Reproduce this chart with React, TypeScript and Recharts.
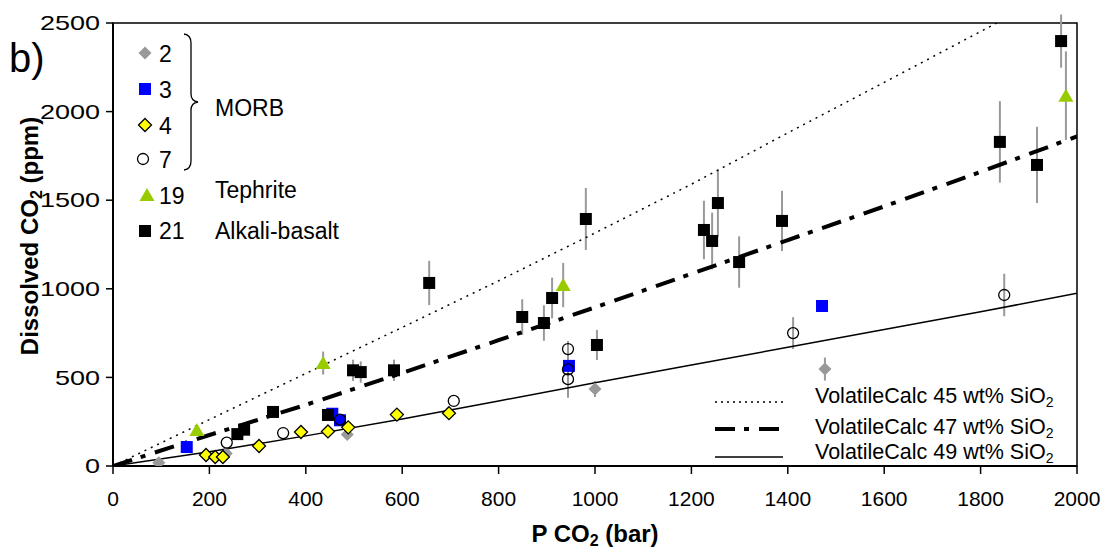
import React from 'react';
import { ScatterChart, Scatter, XAxis, YAxis, ErrorBar, ReferenceArea } from 'recharts';

const FONT = '"Liberation Sans", Arial, Helvetica, sans-serif';

// ---- data ----
const xTicks = [0, 200, 400, 600, 800, 1000, 1200, 1400, 1600, 1800, 2000];
const yTicks = [0, 500, 1000, 1500, 2000, 2500];

// series 2 (MORB, grey diamond)
const s2P = [95, 235, 486, 1000, 1477];
const s2C = [18, 70, 178, 435, 547];
const s2E = [0, 0, 0, 45, 65];
// series 3 (MORB, blue square)
const s3P = [153, 455, 471, 946, 1471];
const s3C = [107, 295, 258, 565, 903];
const s3E = [0, 0, 0, 0, 0];
// series 4 (MORB, yellow diamond)
const s4P = [193, 212, 228, 303, 390, 446, 488, 589, 697];
const s4C = [62, 51, 51, 113, 192, 195, 218, 290, 298];
const s4E = [0, 0, 0, 0, 0, 0, 0, 0, 0];
// series 7 (MORB, open circle)
const s7P = [236, 353, 471, 707, 944, 944, 944, 1411, 1849];
const s7C = [132, 186, 262, 367, 660, 545, 490, 750, 965];
const s7E = [0, 0, 0, 0, 0, 160, 0, 90, 120];
// series 19 (Tephrite, green triangle)
const s19P = [174, 436, 934, 1977];
const s19C = [203, 581, 1021, 2090];
const s19E = [0, 65, 125, 250];
// series 21 (Alkali-basalt, black square)
const s21P = [258, 272, 332, 446, 498, 514, 583, 656, 849, 894, 911, 981, 1004, 1226, 1243, 1255, 1299, 1388, 1840, 1917, 1967];
const s21C = [180, 205, 305, 288, 540, 530, 540, 1033, 841, 807, 948, 1394, 683, 1332, 1270, 1484, 1151, 1383, 1829, 1699, 2398];
const s21E = [0, 0, 30, 0, 60, 60, 60, 125, 100, 100, 115, 175, 85, 165, 160, 190, 145, 170, 230, 215, 150];

// VolatileCalc model curves
const v45P = [0, 200, 400, 600, 800, 1000, 1200, 1400, 1600, 1858];
const v45C = [0, 262, 522, 782, 1045, 1315, 1590, 1880, 2165, 2535];
const v47P = [0, 200, 400, 600, 800, 1000, 1200, 1400, 1600, 1800, 2000];
const v47C = [0, 175, 345, 525, 710, 895, 1085, 1275, 1465, 1660, 1860];
const v49P = [0, 200, 400, 600, 800, 1000, 1200, 1400, 1600, 1800, 2000];
const v49C = [0, 80, 170, 265, 367, 470, 570, 670, 770, 870, 975];

const pts = (p: number[], c: number[], e?: number[]) =>
  p.map((x, i) => ({ x, y: c[i], err: e ? e[i] : 0 }));

// ---- marker shapes ----
const diamondPath = (cx: number, cy: number, r: number) =>
  `M${cx},${cy - r}L${cx + r},${cy}L${cx},${cy + r}L${cx - r},${cy}Z`;

const GreyDiamond = (p: any) => <path d={diamondPath(p.cx, p.cy, 6.5)} fill="#999999" />;
const YellowDiamond = (p: any) => (
  <path d={diamondPath(p.cx, p.cy, 6.5)} fill="#ffff00" stroke="#000" strokeWidth={1.3} />
);
const BlueSquare = (p: any) => <rect x={p.cx - 6} y={p.cy - 6} width={12} height={12} fill="#0000ff" />;
const BlackSquare = (p: any) => <rect x={p.cx - 6} y={p.cy - 6} width={12} height={12} fill="#000" />;
const OpenCircle = (p: any) => <circle cx={p.cx} cy={p.cy} r={5.5} fill="none" stroke="#000" strokeWidth={1.3} />;
const GreenTriangle = (p: any) => (
  <path d={`M${p.cx},${p.cy - 7}L${p.cx + 7.5},${p.cy + 6}L${p.cx - 7.5},${p.cy + 6}Z`} fill="#99cc00" />
);
const NoShape = () => <g />;

const YTick = (props: any) => {
  const { x, y, payload } = props;
  return (
    <g transform={`translate(${x},${y})`}>
      <text
        transform="scale(1.35,1)"
        x={0}
        y={0}
        dy="0.36em"
        textAnchor="end"
        fontSize={20}
        fontFamily={FONT}
        fill="#000"
      >
        {payload.value}
      </text>
    </g>
  );
};

const Overlay = () => (
  <svg
    width={1104}
    height={551}
    style={{ position: 'absolute', left: 0, top: 0, pointerEvents: 'none', fontFamily: FONT }}
  >
    <text x={9} y={72} fontSize={40} fill="#000">b)</text>
    {/* marker legend */}
    <GreyDiamond cx={145} cy={53} />
    <BlueSquare cx={145} cy={89} />
    <YellowDiamond cx={145} cy={125} />
    <OpenCircle cx={143} cy={159} />
    <GreenTriangle cx={147} cy={195} />
    <BlackSquare cx={145} cy={231} />
    <g fontSize={23} fill="#000">
      <text x={159} y={62}>2</text>
      <text x={159} y={98}>3</text>
      <text x={159} y={134}>4</text>
      <text x={159} y={168}>7</text>
      <text x={159} y={204}>19</text>
      <text x={159} y={239}>21</text>
      <text x={215} y={116}>MORB</text>
      <text x={215} y={198}>Tephrite</text>
      <text x={215} y={239}>Alkali-basalt</text>
    </g>
    <path
      d="M184,34 Q191,35 191,43 L191,94 Q191,101 198,102 Q191,103 191,110 L191,161 Q191,169 184,170"
      fill="none"
      stroke="#000"
      strokeWidth={1.3}
    />
    {/* line legend */}
    <line x1={715} y1={402} x2={783} y2={402} stroke="#000" strokeWidth={1.3} strokeDasharray="2 4" />
    <line x1={715} y1={429} x2={783} y2={429} stroke="#000" strokeWidth={4} strokeDasharray="20 9 5 10" />
    <line x1={715} y1={457} x2={783} y2={457} stroke="#000" strokeWidth={1.5} />
    <g fontSize={21.5} fill="#000">
      <text x={815} y={403}>VolatileCalc 45 wt% SiO<tspan fontSize={14} dy={4}>2</tspan></text>
      <text x={815} y={434}>VolatileCalc 47 wt% SiO<tspan fontSize={14} dy={4}>2</tspan></text>
      <text x={815} y={459}>VolatileCalc 49 wt% SiO<tspan fontSize={14} dy={4}>2</tspan></text>
    </g>
    {/* axis titles */}
    <text x={595} y={542} textAnchor="middle" fontSize={24} fontWeight="bold" fill="#000">
      P CO<tspan fontSize={16} dy={4}>2</tspan><tspan dy={-4}> (bar)</tspan>
    </text>
    <text
      transform="translate(38,236) rotate(-90)"
      x={0}
      y={0}
      textAnchor="middle"
      fontSize={24}
      fontWeight="bold"
      fill="#000"
    >
      Dissolved CO<tspan fontSize={16} dy={4}>2</tspan><tspan dy={-4}> (ppm)</tspan>
    </text>
  </svg>
);

export default function App() {
  return (
    <div style={{ position: 'absolute', left: 0, top: 0, width: 1104, height: 551, background: '#fff' }}>
      <ScatterChart
        width={1104}
        height={551}
        margin={{ top: 23, right: 27, bottom: 25, left: 53 }}
        style={{ fontFamily: FONT }}
      >
        <XAxis
          dataKey="x"
          type="number"
          domain={[0, 2000]}
          ticks={xTicks}
          allowDataOverflow
          height={60}
          tickSize={8}
          tickMargin={17}
          stroke="#000"
          axisLine={{ stroke: '#000', strokeWidth: 2 }}
          tickLine={{ stroke: '#000', strokeWidth: 1.5 }}
          tick={{ fontSize: 21, fill: '#000', fontFamily: FONT }}
        />
        <YAxis
          dataKey="y"
          type="number"
          domain={[0, 2500]}
          ticks={yTicks}
          allowDataOverflow
          width={60}
          tickSize={7}
          tickMargin={6}
          stroke="#000"
          axisLine={{ stroke: '#000', strokeWidth: 2 }}
          tickLine={{ stroke: '#000', strokeWidth: 1.5 }}
          tick={YTick}
        />
        <ReferenceArea x1={0} x2={2000} y1={0} y2={2500} fill="none" stroke="#000" strokeWidth={1.5} />
        <Scatter
          data={pts(v45P, v45C)}
          shape={NoShape}
          line={{ stroke: '#000', strokeWidth: 1.5, strokeDasharray: '2 5' }}
          isAnimationActive={false}
        />
        <Scatter
          data={pts(v47P, v47C)}
          shape={NoShape}
          line={{ stroke: '#000', strokeWidth: 4, strokeDasharray: '20 9 5 10' }}
          isAnimationActive={false}
        />
        <Scatter
          data={pts(v49P, v49C)}
          shape={NoShape}
          line={{ stroke: '#000', strokeWidth: 1.5 }}
          isAnimationActive={false}
        />
        <Scatter data={pts(s2P, s2C, s2E)} shape={GreyDiamond} isAnimationActive={false}>
          <ErrorBar dataKey="err" direction="y" width={0} stroke="#999" strokeWidth={2} />
        </Scatter>
        <Scatter data={pts(s3P, s3C, s3E)} shape={BlueSquare} isAnimationActive={false} />
        <Scatter data={pts(s7P, s7C, s7E)} shape={OpenCircle} isAnimationActive={false}>
          <ErrorBar dataKey="err" direction="y" width={0} stroke="#999" strokeWidth={2} />
        </Scatter>
        <Scatter data={pts(s4P, s4C, s4E)} shape={YellowDiamond} isAnimationActive={false} />
        <Scatter data={pts(s19P, s19C, s19E)} shape={GreenTriangle} isAnimationActive={false}>
          <ErrorBar dataKey="err" direction="y" width={0} stroke="#999" strokeWidth={2} />
        </Scatter>
        <Scatter data={pts(s21P, s21C, s21E)} shape={BlackSquare} isAnimationActive={false}>
          <ErrorBar dataKey="err" direction="y" width={0} stroke="#999" strokeWidth={2} />
        </Scatter>
      </ScatterChart>
      <Overlay />
    </div>
  );
}
